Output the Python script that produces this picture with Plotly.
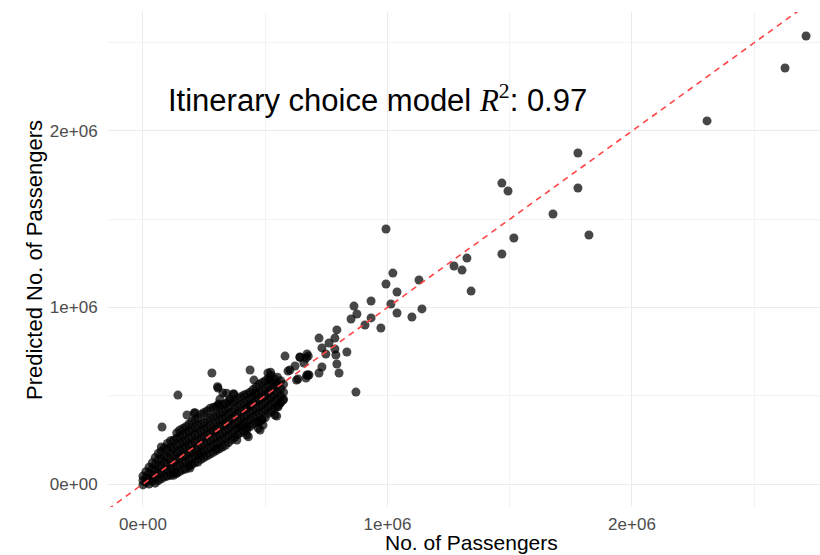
import numpy as np
import plotly.graph_objects as go

# Observed vs. predicted passenger counts (in millions of passengers)
# Large routes, spread out along the diagonal
large_obs = [2.712, 2.626, 2.307, 1.779, 1.779, 1.824, 1.677, 1.468, 1.493, 1.517,
             1.468, 1.325, 1.272, 1.305, 1.342, 0.994, 1.022, 0.994, 1.039, 1.129,
             1.014, 1.039, 1.141, 1.100, 0.933, 0.863, 0.875, 0.851, 0.933, 0.908,
             0.973, 0.793, 0.785, 0.720, 0.761, 0.732, 0.785, 0.748, 0.789, 0.834,
             0.671, 0.667, 0.642, 0.793, 0.732, 0.802, 0.720, 0.679, 0.667, 0.871,
             0.581, 0.622, 0.593, 0.658, 0.675, 0.634, 0.438, 0.511, 0.282, 0.454,
             0.307, 0.327, 0.372, 0.143, 0.180, 0.209, 0.078, 0.540, 0.425, 0.474,
             0.491, 0.425, 0.384, 0.305, 0.369, 0.315, 0.356, 0.308, 0.213, 0.438,
             0.458, 0.519, 0.547, 0.560, 0.547, 0.485, 0.479, 0.431, 0.397, 0.628,
             0.670, 0.642, 0.676, 0.601, 0.301, 0.233, 0.472, 0.553, 0.573, 0.342,
             0.522, 0.192, 0.131]
large_pred = [2.538, 2.357, 2.057, 1.875, 1.677, 1.411, 1.530, 1.705, 1.660, 1.394,
              1.303, 1.280, 1.235, 1.212, 1.093, 1.445, 1.195, 1.133, 1.088, 1.156,
              1.020, 0.969, 0.992, 0.946, 1.037, 1.008, 0.963, 0.935, 0.941, 0.901,
              0.884, 0.873, 0.827, 0.827, 0.799, 0.771, 0.765, 0.737, 0.731, 0.748,
              0.737, 0.714, 0.720, 0.680, 0.663, 0.629, 0.629, 0.618, 0.601, 0.521,
              0.725, 0.669, 0.640, 0.686, 0.618, 0.595, 0.646, 0.629, 0.629, 0.589,
              0.544, 0.516, 0.510, 0.504, 0.391, 0.402, 0.323, 0.391, 0.323, 0.351,
              0.334, 0.278, 0.249, 0.551, 0.510, 0.480, 0.480, 0.453, 0.404, 0.448,
              0.514, 0.589, 0.571, 0.457, 0.385, 0.363, 0.306, 0.268, 0.325, 0.589,
              0.618, 0.718, 0.725, 0.646, 0.202, 0.164, 0.315, 0.438, 0.476, 0.515,
              0.633, 0.091, 0.062]

# Small routes: the dense band near the origin
small_obs = [
    0.000, 0.000, 0.000,
    0.012, 0.012, 0.012,
    0.025, 0.025, 0.025, 0.025,
    0.038, 0.038, 0.038, 0.038,
    0.050, 0.050, 0.050, 0.050, 0.050,
    0.063, 0.063, 0.063, 0.063, 0.063,
    0.075, 0.075, 0.075, 0.075, 0.075, 0.075,
    0.088, 0.088, 0.088, 0.088, 0.088,
    0.100, 0.100, 0.100, 0.100, 0.100, 0.100,
    0.113, 0.113, 0.113, 0.113, 0.113, 0.113,
    0.125, 0.125, 0.125, 0.125, 0.125, 0.125,
    0.138, 0.138, 0.138, 0.138, 0.138, 0.138, 0.138,
    0.150, 0.150, 0.150, 0.150, 0.150, 0.150, 0.150,
    0.163, 0.163, 0.163, 0.163, 0.163, 0.163, 0.163,
    0.175, 0.175, 0.175, 0.175, 0.175, 0.175, 0.175,
    0.188, 0.188, 0.188, 0.188, 0.188, 0.188, 0.188,
    0.200, 0.200, 0.200, 0.200, 0.200, 0.200, 0.200,
    0.213, 0.213, 0.213, 0.213, 0.213, 0.213, 0.213,
    0.225, 0.225, 0.225, 0.225, 0.225, 0.225, 0.225,
    0.238, 0.238, 0.238, 0.238, 0.238, 0.238, 0.238,
    0.250, 0.250, 0.250, 0.250, 0.250, 0.250, 0.250,
    0.263, 0.263, 0.263, 0.263, 0.263, 0.263, 0.263,
    0.275, 0.275, 0.275, 0.275, 0.275, 0.275, 0.275,
    0.288, 0.288, 0.288, 0.288, 0.288, 0.288, 0.288,
    0.300, 0.300, 0.300, 0.300, 0.300, 0.300, 0.300,
    0.313, 0.313, 0.313, 0.313, 0.313, 0.313, 0.313,
    0.325, 0.325, 0.325, 0.325, 0.325, 0.325, 0.325,
    0.338, 0.338, 0.338, 0.338, 0.338, 0.338, 0.338,
    0.350, 0.350, 0.350, 0.350, 0.350, 0.350, 0.350,
    0.363, 0.363, 0.363, 0.363, 0.363, 0.363,
    0.375, 0.375, 0.375, 0.375, 0.375, 0.375,
    0.388, 0.388, 0.388, 0.388, 0.388, 0.388,
    0.400, 0.400, 0.400, 0.400, 0.400, 0.400,
    0.413, 0.413, 0.413, 0.413, 0.413, 0.413,
    0.425, 0.425, 0.425, 0.425, 0.425, 0.425,
    0.438, 0.438, 0.438, 0.438, 0.438, 0.438,
    0.450, 0.450, 0.450, 0.450, 0.450, 0.450,
    0.463, 0.463, 0.463, 0.463, 0.463, 0.463,
    0.475, 0.475, 0.475, 0.475, 0.475, 0.475,
    0.488, 0.488, 0.488, 0.488, 0.488, 0.488,
    0.500, 0.500, 0.500, 0.500, 0.500, 0.500,
    0.513, 0.513, 0.513, 0.513, 0.513, 0.513,
    0.525, 0.525, 0.525, 0.525, 0.525, 0.525,
    0.538, 0.538, 0.538, 0.538, 0.538,
    0.550, 0.550, 0.550, 0.550, 0.550,
    0.563, 0.563, 0.563, 0.563,
    0.575, 0.575, 0.575,
]
small_pred = [
    -0.005, 0.020, 0.045,
    0.010, 0.035, 0.070,
    0.000, 0.030, 0.060, 0.095,
    0.015, 0.050, 0.085, 0.120,
    0.005, 0.040, 0.075, 0.110, 0.150,
    0.020, 0.060, 0.100, 0.140, 0.175,
    0.030, 0.065, 0.105, 0.145, 0.185, 0.210,
    0.040, 0.080, 0.120, 0.160, 0.205,
    0.045, 0.080, 0.115, 0.155, 0.195, 0.230,
    0.050, 0.090, 0.130, 0.170, 0.210, 0.245,
    0.050, 0.085, 0.125, 0.165, 0.205, 0.250,
    0.060, 0.100, 0.140, 0.180, 0.220, 0.260, 0.290,
    0.070, 0.110, 0.150, 0.190, 0.230, 0.270, 0.305,
    0.080, 0.120, 0.160, 0.200, 0.240, 0.280, 0.315,
    0.085, 0.125, 0.165, 0.205, 0.245, 0.290, 0.325,
    0.100, 0.140, 0.180, 0.220, 0.260, 0.300, 0.340,
    0.110, 0.145, 0.185, 0.225, 0.265, 0.310, 0.355,
    0.120, 0.160, 0.200, 0.240, 0.280, 0.320, 0.365,
    0.125, 0.165, 0.205, 0.245, 0.285, 0.330, 0.375,
    0.140, 0.180, 0.220, 0.260, 0.300, 0.340, 0.395,
    0.150, 0.190, 0.230, 0.270, 0.310, 0.350, 0.405,
    0.160, 0.200, 0.240, 0.280, 0.320, 0.365, 0.415,
    0.170, 0.210, 0.250, 0.290, 0.330, 0.375, 0.430,
    0.180, 0.220, 0.260, 0.300, 0.340, 0.385, 0.435,
    0.190, 0.230, 0.270, 0.310, 0.350, 0.395, 0.440,
    0.200, 0.240, 0.280, 0.320, 0.360, 0.400, 0.445,
    0.210, 0.250, 0.290, 0.330, 0.370, 0.410, 0.450,
    0.220, 0.260, 0.300, 0.340, 0.380, 0.420, 0.455,
    0.235, 0.275, 0.315, 0.355, 0.395, 0.435, 0.470,
    0.250, 0.290, 0.330, 0.370, 0.410, 0.460,
    0.265, 0.305, 0.345, 0.385, 0.425, 0.470,
    0.280, 0.320, 0.360, 0.400, 0.440, 0.485,
    0.290, 0.330, 0.370, 0.410, 0.450, 0.495,
    0.300, 0.340, 0.380, 0.420, 0.460, 0.505,
    0.310, 0.350, 0.390, 0.430, 0.470, 0.510,
    0.325, 0.365, 0.405, 0.445, 0.485, 0.520,
    0.340, 0.380, 0.420, 0.460, 0.500, 0.535,
    0.350, 0.390, 0.430, 0.470, 0.510, 0.550,
    0.355, 0.400, 0.440, 0.480, 0.520, 0.565,
    0.365, 0.410, 0.450, 0.490, 0.530, 0.575,
    0.375, 0.420, 0.460, 0.500, 0.540, 0.585,
    0.400, 0.440, 0.480, 0.520, 0.560, 0.600,
    0.410, 0.450, 0.490, 0.530, 0.570, 0.615,
    0.430, 0.470, 0.510, 0.550, 0.595,
    0.440, 0.480, 0.520, 0.560, 0.605,
    0.460, 0.500, 0.540, 0.585,
    0.480, 0.520, 0.565,
]

# Axis settings
x_range = [-0.143e6, 2.769e6]
y_range = [-0.130e6, 2.674e6]
tick_vals = [0, 1e6, 2e6]
tick_text = ["0e+00", "1e+06", "2e+06"]
r2_value = 0.97

MILLION = 1e6
observed = np.array(small_obs + large_obs) * MILLION
predicted = np.array(small_pred + large_pred) * MILLION

fig = go.Figure()

fig.add_trace(go.Scatter(
    x=observed, y=predicted, mode="markers",
    marker=dict(size=9, color="rgba(0,0,0,0.72)", line=dict(width=0)),
    hoverinfo="skip", showlegend=False,
))

# y = x reference line spanning the visible range
diag = [min(x_range[0], y_range[0]), max(x_range[1], y_range[1])]
fig.add_trace(go.Scatter(
    x=diag, y=diag, mode="lines",
    line=dict(color="#ff4545", width=1.6, dash="6px,5px"),
    hoverinfo="skip", showlegend=False,
))

tick_font = dict(family="Liberation Sans, Arial", size=17, color="#4d4d4d")
axis_common = dict(
    tickvals=tick_vals, ticktext=tick_text,
    showgrid=True, gridcolor="#ebebeb", gridwidth=1.2,
    zeroline=False, showline=False,
    ticks="outside", tickcolor="rgba(0,0,0,0)",
    tickfont=tick_font,
    minor=dict(dtick=0.5e6, tick0=0, showgrid=True, gridcolor="#f3f3f3", gridwidth=1),
)

fig.update_layout(
    width=820, height=555,
    margin=dict(l=108, r=0, t=12, b=48),
    paper_bgcolor="white", plot_bgcolor="white",
    xaxis=dict(range=x_range, ticklen=2, **axis_common),
    yaxis=dict(range=y_range, ticklen=6, **axis_common),
    annotations=[
        dict(
            text=("Itinerary choice model "
                  "<span style='font-family:Liberation Serif'><i>R</i></span>"
                  "<span style='font-family:Liberation Serif'><sup>2</sup></span>"
                  f": {r2_value:.2f}"),
            xref="paper", yref="paper", x=0.0815, y=0.826,
            xanchor="left", yanchor="middle", showarrow=False,
            font=dict(family="Liberation Sans, Arial", size=31, color="black"),
        ),
        dict(
            text="No. of Passengers", xref="paper", yref="paper",
            x=0.511, y=-0.071, xanchor="center", yanchor="middle",
            showarrow=False,
            font=dict(family="Liberation Sans, Arial", size=21, color="black"),
        ),
        dict(
            text="Predicted No. of Passengers", xref="paper", yref="paper",
            x=-0.1025, y=0.499, xanchor="center", yanchor="middle",
            textangle=-90, showarrow=False,
            font=dict(family="Liberation Sans, Arial", size=22, color="black"),
        ),
    ],
)

fig.write_html("out.html")
